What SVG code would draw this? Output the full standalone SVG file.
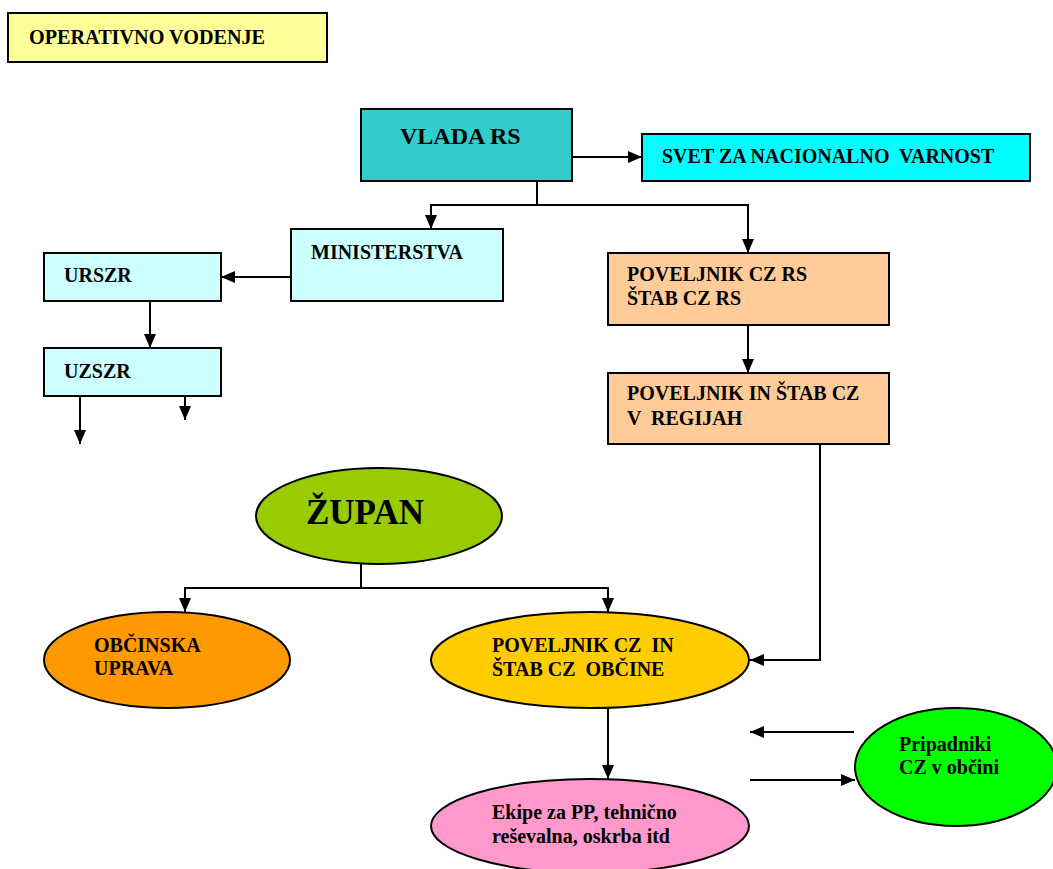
<svg xmlns="http://www.w3.org/2000/svg" width="1053" height="869" viewBox="0 0 1053 869">
<style>
.t{font-family:"Liberation Serif","Times New Roman",serif;font-weight:bold;font-size:20px;fill:#000}
.b{stroke:#000;stroke-width:2}
.c{fill:none;stroke:#000;stroke-width:2}
</style>
<defs>
<marker id="ah" markerUnits="userSpaceOnUse" markerWidth="14" markerHeight="12" refX="14" refY="6" orient="auto">
<path d="M0,0 L14,6 L0,12 z" fill="#000"/>
</marker>
</defs>
<rect width="1053" height="869" fill="#fff"/>
<g id="title"><rect class="b" x="8" y="13" width="319" height="49" fill="#FFFF99"/><text class="t" x="29" y="44" style="font-size:20.2px">OPERATIVNO VODENJE</text></g>
<g id="vlada"><rect class="b" x="361" y="109" width="211" height="72" fill="#33CCCC"/><text class="t" x="400" y="144" style="font-size:24px">VLADA RS</text></g>
<g id="svet"><rect class="b" x="642" y="134" width="388" height="47" fill="#00FFFF"/><text class="t" x="662" y="163" xml:space="preserve">SVET ZA NACIONALNO  VARNOST</text></g>
<g id="ministrstva"><rect class="b" x="291" y="229" width="212" height="72" fill="#CCFFFF"/><text class="t" x="311" y="259">MINISTERSTVA</text></g>
<g id="urszr"><rect class="b" x="44" y="253" width="177" height="48" fill="#CCFFFF"/><text class="t" x="64" y="282">URSZR</text></g>
<g id="uzszr"><rect class="b" x="44" y="348" width="177" height="48" fill="#CCFFFF"/><text class="t" x="64" y="378">UZSZR</text></g>
<g id="poveljnik-rs"><rect class="b" x="608" y="253" width="281" height="72" fill="#FFCC99"/><text class="t" x="627" y="281">POVELJNIK CZ RS</text><text class="t" x="627" y="305">ŠTAB CZ RS</text></g>
<g id="poveljnik-regije"><rect class="b" x="608" y="373" width="281" height="71" fill="#FFCC99"/><text class="t" x="627" y="400">POVELJNIK IN ŠTAB CZ</text><text class="t" x="627" y="425" xml:space="preserve">V  REGIJAH</text></g>
<g id="zupan"><ellipse class="b" cx="379" cy="516" rx="123" ry="48" fill="#99CC00"/><text class="t" x="306" y="524" style="font-size:35px">ŽUPAN</text></g>
<g id="obcinska-uprava"><ellipse class="b" cx="167" cy="660" rx="123" ry="48" fill="#FF9900"/><text class="t" x="94" y="652">OBČINSKA</text><text class="t" x="94" y="675">UPRAVA</text></g>
<g id="poveljnik-obcine"><ellipse class="b" cx="590" cy="660" rx="159" ry="48" fill="#FFCC00"/><text class="t" x="492" y="652" xml:space="preserve">POVELJNIK CZ  IN</text><text class="t" x="492" y="676" xml:space="preserve">ŠTAB CZ  OBČINE</text></g>
<g id="ekipe"><ellipse class="b" cx="590" cy="826" rx="159" ry="47" fill="#FF99CC"/><text class="t" x="492" y="819">Ekipe za PP, tehnično</text><text class="t" x="492" y="843">reševalna, oskrba itd</text></g>
<g id="pripadniki"><ellipse class="b" cx="956" cy="767" rx="101" ry="59" fill="#00FF00"/><text class="t" x="899" y="751">Pripadniki</text><text class="t" x="899" y="774">CZ v občini</text></g>
<g id="connectors">
<path class="c" d="M572,157 H642" marker-end="url(#ah)"/>
<path class="c" d="M537,181 V205 H431 V229" marker-end="url(#ah)"/>
<path class="c" d="M537,205 H748 V253" marker-end="url(#ah)"/>
<path class="c" d="M291,277 H221" marker-end="url(#ah)"/>
<path class="c" d="M150,301 V348" marker-end="url(#ah)"/>
<path class="c" d="M80,396 V444" marker-end="url(#ah)"/>
<path class="c" d="M185,396 V420" marker-end="url(#ah)"/>
<path class="c" d="M748,325 V373" marker-end="url(#ah)"/>
<path class="c" d="M820,444 V660 H750" marker-end="url(#ah)"/>
<path class="c" d="M361,564 V588 H185 V612" marker-end="url(#ah)"/>
<path class="c" d="M361,588 H608 V612" marker-end="url(#ah)"/>
<path class="c" d="M608,708 V779" marker-end="url(#ah)"/>
<path class="c" d="M854,732 H750" marker-end="url(#ah)"/>
<path class="c" d="M750,780 H855" marker-end="url(#ah)"/>
</g>
</svg>
